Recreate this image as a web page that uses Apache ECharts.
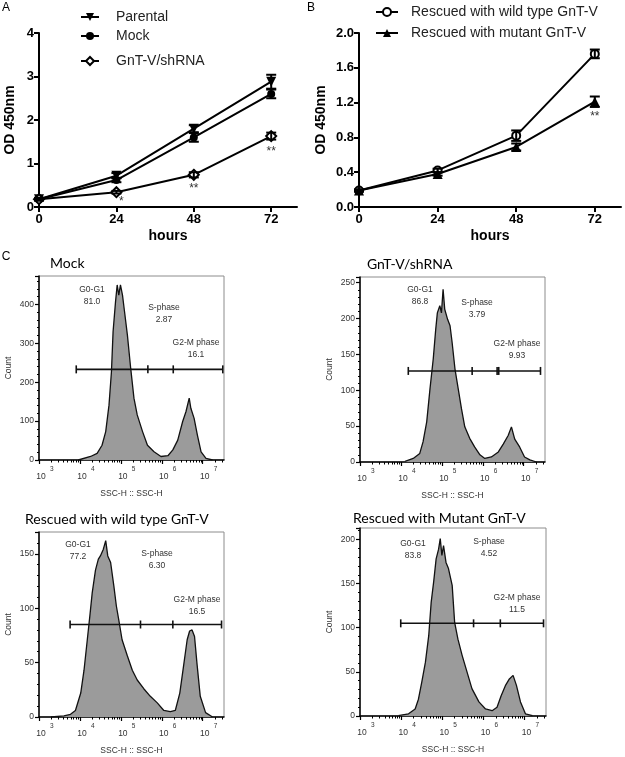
<!DOCTYPE html>
<html>
<head>
<meta charset="utf-8">
<script src="https://cdn.jsdelivr.net/npm/echarts@6/dist/echarts.min.js"></script>
<style>
  html, body { margin: 0; padding: 0; background: #fff; }
  #chart { width: 625px; height: 757px; }
</style>
</head>
<body>
<div id="chart"></div>
<script>
// ---- growth curves (A, B) ----
const hours = [0, 24, 48, 72]
const parental = [0.18, 0.72, 1.80, 2.88]
const parentalErr = [0.03, 0.06, 0.08, 0.16]
const mock = [0.18, 0.62, 1.60, 2.60]
const mockErr = [0.03, 0.05, 0.10, 0.10]
const shRNA = [0.18, 0.34, 0.74, 1.63]
const shRNAErr = [0.02, 0.03, 0.06, 0.08]
const wildType = [0.19, 0.42, 0.82, 1.76]
const wildTypeErr = [0.01, 0.02, 0.06, 0.05]
const mutant = [0.19, 0.38, 0.69, 1.21]
const mutantErr = [0.01, 0.02, 0.04, 0.06]

const starsAX = [25.5, 48, 72]
const starsAY = [0.12, 0.41, 1.27]
const starsAText = ['*', '**', '**']
const starsBX = [72]
const starsBY = [1.04]
const starsBText = ['**']

// ---- cell-cycle histograms (C), x = log10(SSC-H) ----
const decades = [3, 4, 5, 6, 7]

const mockLogX = [3.96, 4.26, 4.42, 4.54, 4.63, 4.71, 4.77, 4.81, 4.87, 4.91, 4.95, 4.99, 5.04, 5.09, 5.16, 5.24, 5.32, 5.40, 5.53, 5.65, 5.81, 5.98, 6.15, 6.27, 6.39, 6.51, 6.59, 6.67, 6.71, 6.79, 6.87, 6.96, 7.08, 7.24]
const mockCount = [0, 9, 17, 38, 73, 141, 227, 330, 407, 450, 424, 450, 424, 381, 321, 236, 159, 116, 73, 38, 21, 9, 11, 26, 51, 99, 124, 159, 133, 107, 64, 21, 4, 0]

const shLogX = [4.10, 4.30, 4.46, 4.54, 4.63, 4.71, 4.79, 4.85, 4.89, 4.95, 4.99, 5.03, 5.07, 5.14, 5.20, 5.25, 5.32, 5.40, 5.48, 5.56, 5.68, 5.80, 5.93, 6.05, 6.21, 6.38, 6.50, 6.62, 6.70, 6.78, 6.90, 7.02, 7.15, 7.31]
const shCount = [1, 5, 12, 28, 56, 102, 144, 185, 208, 218, 208, 241, 213, 199, 190, 167, 130, 102, 74, 49, 33, 21, 10, 5, 7, 14, 25, 37, 49, 32, 21, 7, 3, 0]

const wtLogX = [3.29, 3.61, 3.77, 3.89, 4.02, 4.10, 4.18, 4.24, 4.30, 4.38, 4.45, 4.50, 4.57, 4.63, 4.68, 4.75, 4.83, 4.89, 4.95, 5.03, 5.16, 5.28, 5.40, 5.56, 5.72, 5.89, 6.05, 6.21, 6.33, 6.44, 6.54, 6.62, 6.68, 6.74, 6.80, 6.86, 6.94, 7.07, 7.24]
const wtCount = [0, 1, 2.5, 6, 22, 43, 71, 92, 114, 135, 145, 148, 154, 162, 148, 142, 120, 102, 89, 71, 56, 43, 34, 26, 19, 13, 6, 5, 6, 22, 49, 71, 79, 80, 74, 49, 19, 4, 0]

const mutLogX = [3.93, 4.18, 4.34, 4.42, 4.50, 4.59, 4.67, 4.73, 4.79, 4.85, 4.91, 4.95, 4.99, 5.03, 5.09, 5.15, 5.24, 5.30, 5.38, 5.48, 5.60, 5.72, 5.89, 6.05, 6.21, 6.33, 6.43, 6.54, 6.63, 6.72, 6.80, 6.90, 7.02, 7.19]
const mutCount = [0.5, 2.5, 8, 19, 38, 61, 91, 129, 152, 178, 189, 201, 182, 193, 174, 167, 148, 106, 87, 69, 50, 31, 16, 8, 6, 10, 23, 35, 42, 46, 35, 16, 2.5, 0.5]

// gate boundaries (log10) and gate height (count)
const mockGate = [3.91, 5.66, 6.28, 7.49]
const shGate = [4.18, 5.74, 6.35, 6.39, 7.41]
const wtGate = [3.76, 5.48, 6.27, 7.46]
const mutGate = [3.99, 5.76, 6.41, 7.46]
const gateCounts = [233, 127, 85, 105]

const phaseNames = ['G0-G1', 'S-phase', 'G2-M phase']
const mockPct = ['81.0', '2.87', '16.1']
const shPct = ['86.8', '3.79', '9.93']
const wtPct = ['77.2', '6.30', '16.5']
const mutPct = ['83.8', '4.52', '11.5']

const histTitles = ['Mock', 'GnT-V/shRNA', 'Rescued with wild type GnT-V', 'Rescued with Mutant GnT-V']
const countMax = [473, 258, 170, 213]
const countStep = [100, 50, 50, 50]

// ---- layout ----
const histGrids = [
  { left: 39, top: 276, width: 185, height: 184 },
  { left: 360, top: 277, width: 185, height: 185 },
  { left: 39, top: 532, width: 185, height: 185 },
  { left: 360, top: 528, width: 186, height: 188 }
]
const titlePos = [[50, 263], [367, 264], [25, 519], [353, 518]]
// [cx, cy] of the name line for G0-G1, S-phase, G2-M phase; the value sits 11.5px below
const phaseLabelPos = [
  [[92, 290], [164, 308], [196, 343]],
  [[420, 290], [477, 303], [517, 344]],
  [[78, 545], [157, 554], [197, 600]],
  [[413, 544], [489, 542], [517, 598]]
]

const ARIAL = 'Liberation Sans, Arial, sans-serif'
const minorLogTicks = []
decades.forEach((d) => {
  for (let k = 2; k <= 9; k += 1) {
    const v = d + Math.log10(k)
    if (v < 7.52) minorLogTicks.push(v)
  }
})

const chart = echarts.init(document.getElementById('chart'), null, { renderer: 'canvas' })

const growthX = (grid) => ({
  type: 'value', gridIndex: grid, min: 0, max: 80,
  axisLine: { lineStyle: { color: '#000', width: 2 } },
  axisTick: { customValues: hours, length: 5, lineStyle: { color: '#000', width: 2 } },
  axisLabel: { customValues: hours, color: '#000', fontFamily: ARIAL, fontWeight: 'bold', fontSize: 13, margin: 6 },
  splitLine: { show: false },
  name: 'hours', nameLocation: 'middle', nameGap: 22,
  nameTextStyle: { color: '#000', fontFamily: ARIAL, fontWeight: 'bold', fontSize: 14 }
})

const growthY = (grid, max, step, digits, gap) => ({
  type: 'value', gridIndex: grid, min: 0, max, interval: step,
  axisLine: { show: true, lineStyle: { color: '#000', width: 2 } },
  axisTick: { show: true, length: 5, lineStyle: { color: '#000', width: 2 } },
  axisLabel: { color: '#000', fontFamily: ARIAL, fontWeight: 'bold', fontSize: 13, margin: 5, formatter: (v) => v.toFixed(digits) },
  splitLine: { show: false },
  name: 'OD 450nm', nameLocation: 'middle', nameGap: gap,
  nameTextStyle: { color: '#000', fontFamily: ARIAL, fontWeight: 'bold', fontSize: 14 }
})

const lineSeries = (name, grid, vals, symbol, open, rotate) => ({
  name, type: 'line', xAxisIndex: grid, yAxisIndex: grid, z: 3,
  data: hours.map((h, i) => [h, vals[i]]),
  symbol, symbolSize: symbol === 'circle' ? 8 : 10, symbolRotate: rotate || 0,
  lineStyle: { color: '#000', width: 2 },
  itemStyle: open ? { color: '#fff', borderColor: '#000', borderWidth: 2 } : { color: '#000', borderColor: '#000', borderWidth: 0 }
})

const errorSeries = (grid, vals, errs) => ({
  type: 'custom', xAxisIndex: grid, yAxisIndex: grid, z: 4,
  data: hours.map((h, i) => [h, vals[i] - errs[i], vals[i] + errs[i]]),
  encode: { x: 0, y: [1, 2] },
  renderItem: (params, api) => {
    const lo = api.coord([api.value(0), api.value(1)])
    const hi = api.coord([api.value(0), api.value(2)])
    const w = 5
    const st = { stroke: '#000', lineWidth: 2 }
    return {
      type: 'group',
      children: [
        { type: 'line', shape: { x1: lo[0], y1: lo[1], x2: hi[0], y2: hi[1] }, style: st },
        { type: 'line', shape: { x1: lo[0] - w, y1: lo[1], x2: lo[0] + w, y2: lo[1] }, style: st },
        { type: 'line', shape: { x1: hi[0] - w, y1: hi[1], x2: hi[0] + w, y2: hi[1] }, style: st }
      ]
    }
  }
})

const starSeries = (grid, xs, ys, texts) => ({
  type: 'custom', xAxisIndex: grid, yAxisIndex: grid, z: 6,
  data: xs.map((x, i) => [x, ys[i], i]),
  renderItem: (params, api) => {
    const p = api.coord([api.value(0), api.value(1)])
    return {
      type: 'text', x: p[0], y: p[1],
      style: { text: texts[api.value(2)], fill: '#333', font: '12px ' + ARIAL, align: 'center', verticalAlign: 'middle' }
    }
  }
})

const xAxes = [growthX(0), growthX(1)]
const yAxes = [growthY(0, 4, 1, 0, 22), growthY(1, 2, 0.4, 1, 31)]
const grids = [
  { left: 39, top: 33, width: 258, height: 174 },
  { left: 359, top: 33, width: 262, height: 174 }
]

const histStyle = { color: '#333', fontFamily: ARIAL, fontSize: 8.5 }
histGrids.forEach((g, k) => {
  const gi = k + 2
  grids.push(Object.assign({ show: true, borderColor: '#8c8c8c', borderWidth: 1, backgroundColor: 'transparent' }, g))
  // decades: ticks + "10"
  xAxes.push({
    type: 'value', gridIndex: gi, position: 'bottom', offset: 0, min: 3, max: 7.52,
    axisLine: { onZero: false, lineStyle: { color: '#000', width: 1.5 } },
    axisTick: { customValues: decades, length: 4, lineStyle: { color: '#000', width: 1.2 } },
    axisLabel: { customValues: decades, margin: 12, padding: [0, 0, 0, 4], formatter: () => '10', color: '#333', fontFamily: ARIAL, fontSize: 8.5 },
    splitLine: { show: false },
    name: 'SSC-H :: SSC-H', nameLocation: 'middle', nameGap: 29, nameTextStyle: histStyle
  })
  // minor log ticks + exponents
  xAxes.push({
    type: 'value', gridIndex: gi, position: 'bottom', offset: 0, min: 3, max: 7.52,
    axisLine: { show: false, onZero: false },
    axisTick: { customValues: minorLogTicks, length: 2.5, lineStyle: { color: '#000', width: 1 } },
    axisLabel: { customValues: decades, margin: 6, align: 'left', padding: [0, 0, 0, 11], color: '#333', fontFamily: ARIAL, fontSize: 6.5 },
    splitLine: { show: false }
  })
  yAxes.push({
    type: 'value', gridIndex: gi, min: 0, max: countMax[k], interval: countStep[k],
    axisLine: { show: true, onZero: false, lineStyle: { color: '#000', width: 1.5 } },
    axisTick: { show: true, length: 4, lineStyle: { color: '#000', width: 1.2 } },
    minorTick: { show: true, splitNumber: 5, length: 2, lineStyle: { color: '#000', width: 1 } },
    axisLabel: Object.assign({ margin: 5, showMaxLabel: false }, histStyle),
    splitLine: { show: false },
    name: 'Count', nameLocation: 'middle', nameGap: 26, nameTextStyle: histStyle
  })
})

const histX = [mockLogX, shLogX, wtLogX, mutLogX]
const histY = [mockCount, shCount, wtCount, mutCount]
const gates = [mockGate, shGate, wtGate, mutGate]
const pcts = [mockPct, shPct, wtPct, mutPct]

const series = [
  lineSeries('Parental', 0, parental, 'triangle', false, 180),
  lineSeries('Mock', 0, mock, 'circle', false),
  lineSeries('GnT-V/shRNA', 0, shRNA, 'diamond', true),
  errorSeries(0, parental, parentalErr),
  errorSeries(0, mock, mockErr),
  errorSeries(0, shRNA, shRNAErr),
  starSeries(0, starsAX, starsAY, starsAText),
  lineSeries('Rescued with wild type GnT-V', 1, wildType, 'circle', true),
  lineSeries('Rescued with mutant GnT-V', 1, mutant, 'triangle', false),
  errorSeries(1, wildType, wildTypeErr),
  errorSeries(1, mutant, mutantErr),
  starSeries(1, starsBX, starsBY, starsBText)
]

histX.forEach((xs, k) => {
  series.push({
    type: 'line', xAxisIndex: 2 + k * 2, yAxisIndex: 2 + k, z: 2,
    data: xs.map((x, i) => [x, histY[k][i]]),
    symbol: 'none', smooth: false,
    lineStyle: { color: '#111', width: 1.3 },
    areaStyle: { color: '#9b9b9b', opacity: 1 }
  })
  series.push({
    type: 'line', xAxisIndex: 2 + k * 2, yAxisIndex: 2 + k, z: 4,
    data: gates[k].map((x) => [x, gateCounts[k]]),
    symbol: 'rect', symbolSize: [1.6, 8],
    itemStyle: { color: '#111' },
    lineStyle: { color: '#111', width: 1.6 }
  })
})

const graphics = [
  { type: 'text', x: 6, y: 8, style: { text: 'A', font: '12px ' + ARIAL, fill: '#000', align: 'center', verticalAlign: 'middle' } },
  { type: 'text', x: 311, y: 8, style: { text: 'B', font: '12px ' + ARIAL, fill: '#000', align: 'center', verticalAlign: 'middle' } },
  { type: 'text', x: 6, y: 257, style: { text: 'C', font: '12px ' + ARIAL, fill: '#000', align: 'center', verticalAlign: 'middle' } }
]
histTitles.forEach((t, k) => {
  graphics.push({ type: 'text', x: titlePos[k][0], y: titlePos[k][1], style: { text: t, font: '14px Lato, "Noto Sans", sans-serif', fill: '#000', align: 'left', verticalAlign: 'middle' } })
  phaseLabelPos[k].forEach((p, j) => {
    graphics.push({ type: 'text', x: p[0], y: p[1], style: { text: phaseNames[j], font: '8.5px ' + ARIAL, fill: '#333', align: 'center', verticalAlign: 'middle' } })
    graphics.push({ type: 'text', x: p[0], y: p[1] + 11.5, style: { text: pcts[k][j], font: '8.5px ' + ARIAL, fill: '#333', align: 'center', verticalAlign: 'middle' } })
  })
})

const legendItem = (name, left, top, w, pad) => ({
  data: [name], left, top, padding: 0, itemWidth: w, itemHeight: 10,
  textStyle: { color: '#222', fontFamily: ARIAL, fontSize: 14, padding: [0, 0, 0, pad] },
  selectedMode: false
})

chart.setOption({
  animation: false,
  backgroundColor: '#fff',
  grid: grids.map((g) => Object.assign({ outerBoundsMode: 'none' }, g)),
  xAxis: xAxes,
  yAxis: yAxes,
  legend: [
    legendItem('Parental', 80, 10, 18, 12),
    legendItem('Mock', 80, 29, 18, 12),
    legendItem('GnT-V/shRNA', 80, 54, 18, 12),
    legendItem('Rescued with wild type GnT-V', 375, 5, 22, 8),
    legendItem('Rescued with mutant GnT-V', 375, 26, 22, 8)
  ],
  series,
  graphic: graphics
})
</script>
</body>
</html>
